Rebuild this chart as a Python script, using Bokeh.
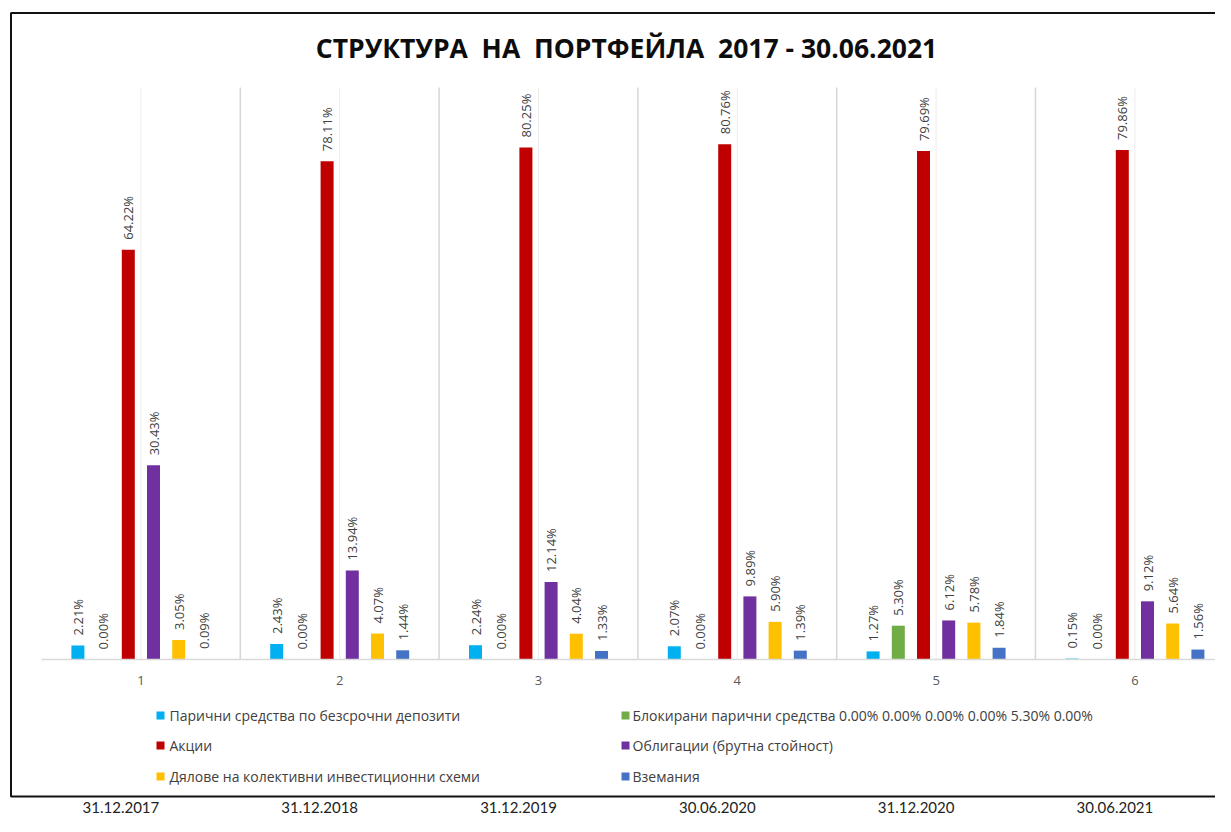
import math
from bokeh.plotting import figure
from bokeh.models import ColumnDataSource, Range1d, LinearAxis, FixedTicker
from bokeh.transform import dodge
from bokeh.core.properties import value
from bokeh.embed import file_html
from bokeh.resources import INLINE

# ---------------- data ----------------
groups = [1, 2, 3, 4, 5, 6]
dates = ["31.12.2017", "31.12.2018", "31.12.2019", "30.06.2020", "31.12.2020", "30.06.2021"]
series_names = [
    "Парични средства по безсрочни депозити",
    "Блокирани парични средства 0.00% 0.00% 0.00% 0.00% 5.30% 0.00%",
    "Акции",
    "Облигации (брутна стойност)",
    "Дялове на колективни инвестиционни  схеми",
    "Вземания",
]
cash = [2.21, 2.43, 2.24, 2.07, 1.27, 0.15]
blocked = [0.00, 0.00, 0.00, 0.00, 5.30, 0.00]
shares = [64.22, 78.11, 80.25, 80.76, 79.69, 79.86]
bonds = [30.43, 13.94, 12.14, 9.89, 6.12, 9.12]
funds = [3.05, 4.07, 4.04, 5.90, 5.78, 5.64]
receivables = [0.09, 1.44, 1.33, 1.39, 1.84, 1.56]
series_values = [cash, blocked, shares, bonds, funds, receivables]
colors = ["#00B0F0", "#70AD47", "#C00000", "#7030A0", "#FFC000", "#4472C4"]
title_text = "СТРУКТУРА \u00a0НА \u00a0ПОРТФЕЙЛА \u00a02017 - 30.06.2021"

# ---------------- geometry (picture pixels -> data) ----------------
W, H = 1215, 816
OFF = 0                   # canvas origin in picture pixels
X0, CW = 41.0, 198.8      # left edge of first category, category width (px)
Y0, S = 659.0, 6.38       # baseline (px), px per percent


def dx(px):
    return 0.5 + (px - X0) / CW


def dy(py):
    return (Y0 - py) / S


p = figure(width=W, height=H,
           x_range=Range1d(dx(OFF), dx(OFF + W)),
           y_range=Range1d(dy(OFF + H), dy(OFF)),
           x_axis_location=None, y_axis_location=None,
           min_border=0, outline_line_color=None,
           toolbar_location=None, output_backend="svg")
p.grid.grid_line_color = None
p.background_fill_color = "white"
p.border_fill_color = "white"

# outer box
p.quad(left=dx(10.5), right=dx(1300), top=dy(12.5), bottom=dy(796),
       fill_color=None, line_color="#111111", line_width=2)

# vertical gridlines
top_grid = dy(87)
bounds_x = [g + 0.5 for g in groups]
p.segment(x0=groups, y0=[0] * len(groups), x1=groups, y1=[top_grid] * len(groups),
          line_color="#ececec", line_width=1)
p.segment(x0=bounds_x, y0=[0] * len(groups), x1=bounds_x, y1=[top_grid] * len(groups),
          line_color="#d6d6d6", line_width=1.5)

# bars + labels
step = 25.2 / CW
bw = 13.0 / CW
n = len(series_values)
for k, (vals, col) in enumerate(zip(series_values, colors)):
    off = (k - (n - 1) / 2) * step
    src = ColumnDataSource(dict(x=groups, top=vals, lab=[f"{v:.2f}%" for v in vals]))
    p.vbar(x=dodge("x", off), top="top", bottom=0, width=bw, source=src,
           fill_color=col, line_color=None)
    p.text(x=dodge("x", off), y="top", text="lab", source=src, angle=math.pi / 2,
           y_offset=-10, text_align="left", text_baseline="middle",
           text_font=value("Open Sans"), text_font_size="13px", text_color="#404040")

# category axis at the baseline
ax = LinearAxis(ticker=FixedTicker(ticks=groups), fixed_location=0, bounds=(0.5, 6.5))
ax.axis_line_color = "#d9d9d9"
ax.axis_line_width = 1.5
ax.major_tick_line_color = None
ax.minor_tick_line_color = None
ax.major_label_text_font = "Open Sans"
ax.major_label_text_font_size = "13px"
ax.major_label_text_color = "#595959"
ax.major_label_standoff = 10
p.add_layout(ax, "below")

# title
p.text(x=[dx(626)], y=[dy(47)], text=[title_text], text_align="center", text_baseline="middle",
       text_font=value("Open Sans"), text_font_style="bold", text_font_size="26.5px",
       text_color="#0d0d0d")

# legend (manual, 2 columns x 3 rows)
mx_cols = [160, 625]
tx_cols = [169, 632]
rows_y = [715, 745, 776]
for k, (name, col) in enumerate(zip(series_names, colors)):
    r, c = k // 2, k % 2
    p.scatter(x=[dx(mx_cols[c])], y=[dy(rows_y[r])], marker="square", size=8,
              fill_color=col, line_color=None)
    p.text(x=[dx(tx_cols[c])], y=[dy(rows_y[r])], text=[name], text_align="left",
           text_baseline="middle", text_font=value("Open Sans"), text_font_size="14px",
           text_color="#404040")

# dates below the box
p.text(x=[g - 20 / CW for g in groups], y=[dy(812)] * len(groups), text=dates,
       text_align="center", text_baseline="bottom", text_font=value("Lato"),
       text_font_size="15px", text_color="#222222")

open("out.html", "w").write(file_html(p, INLINE))
